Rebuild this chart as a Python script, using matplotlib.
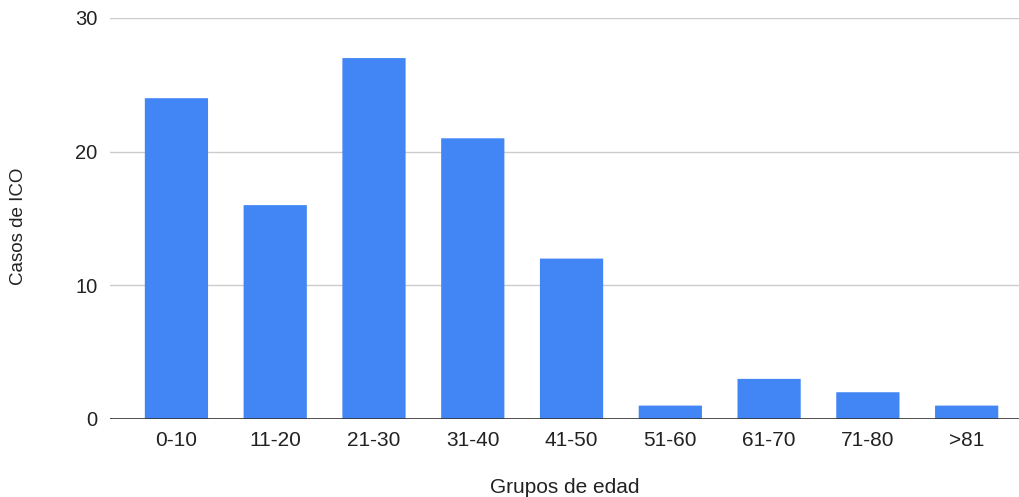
import matplotlib
matplotlib.use("Agg")
import matplotlib.pyplot as plt
from matplotlib.patches import FancyBboxPatch

categories = ["0-10", "11-20", "21-30", "31-40", "41-50", "51-60", "61-70", "71-80", ">81"]
casos = [24, 16, 27, 21, 12, 1, 3, 2, 1]
y_ticks = [0, 10, 20, 30]

plt.rcParams["font.family"] = ["Liberation Sans", "DejaVu Sans"]

fig = plt.figure(figsize=(10.2, 4.97), dpi=100)
ax = fig.add_axes([0.1078, 0.157, 0.8922, 0.8068])

bar_color = "#4285f4"
bars = ax.bar(range(len(categories)), casos, width=0.64, color=bar_color, zorder=3)

# replace the square bars with slightly rounded ones
for b in bars:
    x, y = b.get_x(), b.get_y()
    w, h = b.get_width(), b.get_height()
    b.set_visible(False)
    rp = FancyBboxPatch((x, y), w, h, boxstyle="round,pad=0,rounding_size=0.03",
                        mutation_aspect=1 / 30 * 8.5 * 0.45,
                        facecolor=bar_color, edgecolor="none", zorder=3)
    ax.add_patch(rp)

ax.set_xlim(-0.673, 8.54)
ax.set_ylim(0, 30)
ax.set_yticks(y_ticks)
ax.set_xticks(range(len(categories)))
ax.set_xticklabels(categories)

ax.yaxis.grid(True, color="#cccccc", linewidth=1, zorder=0)
ax.axhline(0, color="#333333", linewidth=1.2, zorder=4)
for s in ax.spines.values():
    s.set_visible(False)
ax.tick_params(axis="both", length=0, colors="#222222")
ax.tick_params(axis="y", pad=9, labelsize=14.5)
ax.tick_params(axis="x", pad=9, labelsize=15)

ax.set_xlabel("Grupos de edad", fontsize=15, color="#222222", labelpad=20)
ax.set_ylabel("Casos de ICO", fontsize=13.5, color="#222222")
ax.yaxis.set_label_coords(-0.0912, 0.481)

fig.savefig("out.png", dpi=100, facecolor="white")
